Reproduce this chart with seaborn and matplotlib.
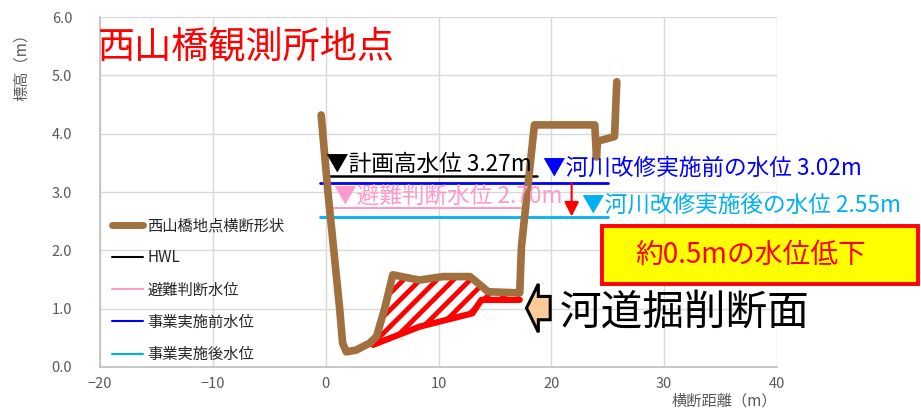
import matplotlib
matplotlib.use("Agg")
import matplotlib.pyplot as plt
from matplotlib.patches import Rectangle, FancyArrow
from matplotlib.lines import Line2D
import seaborn as sns
import pandas as pd

# ---------------- data ----------------
section_x = [-0.4, 0.2, 1.24, 1.5, 1.83, 2.7, 3.9, 4.5, 5.2, 5.95, 8.3, 10.4, 12.8,
             14.4, 17.2, 17.35, 18.5, 23.85, 24.0, 24.1, 25.6, 25.8]
section_y = [4.32, 3.0, 1.0, 0.41, 0.26, 0.29, 0.41, 0.52, 0.98, 1.58, 1.49, 1.55, 1.55,
             1.29, 1.27, 2.06, 4.15, 4.15, 3.6, 3.87, 3.95, 4.89]

# excavation area: upper edge follows section, lower edge is the new bed
excav_upper_x = [4.2, 4.5, 5.2, 5.95, 8.3, 10.4, 12.8, 14.4, 17.2]
excav_upper_y = [0.45, 0.52, 0.98, 1.58, 1.49, 1.55, 1.55, 1.29, 1.27]
excav_lower_x = [4.2, 8.3, 13.0, 13.8, 17.2]
excav_lower_y = [0.38, 0.69, 0.92, 1.15, 1.15]

hwl_x, hwl_y = [0.0, 18.7], [3.27, 3.27]
evac_x, evac_y = [0.7, 17.7], [2.72, 2.72]
before_x, before_y = [-0.5, 25.0], [3.15, 3.15]
after_x, after_y = [-0.5, 25.0], [2.57, 2.57]

drop_x, drop_top, drop_bottom = 21.8, 3.15, 2.58

legend_labels = ["西山橋地点横断形状", "HWL", "避難判断水位", "事業実施前水位", "事業実施後水位"]
x_ticks = [-20, -10, 0, 10, 20, 30, 40]
y_ticks = [0.0, 1.0, 2.0, 3.0, 4.0, 5.0, 6.0]

BROWN = "#A0703F"
PINK = "#FF99CC"
BLUE = "#0000FF"
CYAN = "#00B0F0"
GRAY = "#595959"

# ---------------- style ----------------
sns.set_theme(style="whitegrid")
plt.rcParams["font.family"] = ["Noto Sans CJK JP", "DejaVu Sans"]
plt.rcParams["hatch.linewidth"] = 3.5
plt.rcParams["hatch.color"] = "red"

fig = plt.figure(figsize=(9.21, 4.08), dpi=100)
ax = fig.add_axes([100 / 921, 41 / 408, 677 / 921, 350 / 408])

# excavation hatch
poly_x = excav_upper_x + excav_lower_x[::-1]
poly_y = excav_upper_y + excav_lower_y[::-1]
ax.fill(poly_x, poly_y, facecolor="white", edgecolor="red", hatch="//", linewidth=0, zorder=2)
ax.plot(excav_lower_x, excav_lower_y, color="red", lw=4.5, solid_capstyle="round", zorder=3)

# water levels
ax.plot(hwl_x, hwl_y, color="black", lw=1.8, zorder=3)
ax.plot(evac_x, evac_y, color=PINK, lw=1.5, zorder=3)
ax.plot(before_x, before_y, color=BLUE, lw=2.0, zorder=3)
ax.plot(after_x, after_y, color=CYAN, lw=2.0, zorder=3)

# section
df = pd.DataFrame({"x": section_x, "y": section_y})
sns.lineplot(data=df, x="x", y="y", sort=False, estimator=None, ax=ax,
             color=BROWN, lw=5.5, zorder=4, solid_capstyle="round", solid_joinstyle="round")

# drop arrow
ax.annotate("", xy=(drop_x, drop_bottom), xytext=(drop_x, drop_top),
            arrowprops=dict(arrowstyle="-|>", color="red", lw=1.5, mutation_scale=22,
                            shrinkA=0, shrinkB=0), zorder=5)

# block arrow
ax.add_patch(FancyArrow(19.9, 1.01, -2.1, 0, width=0.40, head_width=0.83, head_length=1.05,
                        length_includes_head=True, fc="#FFCC99", ec="black", lw=2.2, zorder=6))

# text labels
ax.text(0.0, 3.48, "▼計画高水位 3.27m", color="black", fontsize=16.3, va="center", ha="left", zorder=6)
ax.text(0.7, 2.92, "▼避難判断水位 2.70m", color=PINK, fontsize=16.3, va="center", ha="left", zorder=6)
ax.text(19.3, 3.40, "▼河川改修実施前の水位 3.02m", color=BLUE, fontsize=16.3, va="center", ha="left", zorder=6)
ax.text(22.7, 2.78, "▼河川改修実施後の水位 2.55m", color=CYAN, fontsize=16.3, va="center", ha="left", zorder=6)

ax.text(-0.003, 0.914, "西山橋観測所地点", transform=ax.transAxes, color="red", fontsize=26.7,
        va="center", ha="left")

fig.patches.append(Rectangle((602 / 921, 1 - 284 / 408), 316 / 921, 58 / 408,
                             transform=fig.transFigure, facecolor="#FFFF00",
                             edgecolor="red", lw=2.8, zorder=10))
fig.text(751 / 921, 1 - 255 / 408, "約0.5mの水位低下", color="red", fontsize=20,
         ha="center", va="center", zorder=11)
fig.text(560 / 921, 1 - 313 / 408, "河道掘削断面", color="black", fontsize=30,
         ha="left", va="center", zorder=11)

# axes
ax.set_xlim(-20, 40)
ax.set_ylim(0, 6)
ax.set_xticks(x_ticks)
ax.set_yticks(y_ticks)
ax.set_yticklabels([f"{v:.1f}" for v in y_ticks])
ax.set_xticklabels([str(v).replace("-", "−") for v in x_ticks])
ax.tick_params(axis="both", length=0, labelsize=10.5, labelcolor=GRAY)
ax.tick_params(axis="y", pad=20)
ax.tick_params(axis="x", pad=7)
ax.grid(True, color="#d9d9d9", lw=1)
for s in ["top", "right"]:
    ax.spines[s].set_visible(False)
for s in ["left", "bottom"]:
    ax.spines[s].set_color("#bfbfbf")
    ax.spines[s].set_linewidth(1.2)
ax.set_xlabel("横断距離（m）", color=GRAY, fontsize=11, ha="right", va="top")
ax.xaxis.set_label_coords(1.0, -0.072)
ax.set_ylabel("標高（m）", color=GRAY, fontsize=11)
ax.yaxis.set_label_coords(-0.103, 0.866)

handles = [
    Line2D([], [], color=BROWN, lw=5),
    Line2D([], [], color="black", lw=1.5),
    Line2D([], [], color=PINK, lw=1.5),
    Line2D([], [], color=BLUE, lw=1.5),
    Line2D([], [], color=CYAN, lw=1.5),
]
leg = ax.legend(handles, legend_labels, loc="upper left", bbox_to_anchor=(112 / 921, 1 - 217 / 408),
                bbox_transform=fig.transFigure, frameon=False, fontsize=11, labelspacing=1.0,
                handlelength=2.0, handletextpad=0.3, borderpad=0, borderaxespad=0)

fig.savefig("out.png", dpi=100)
